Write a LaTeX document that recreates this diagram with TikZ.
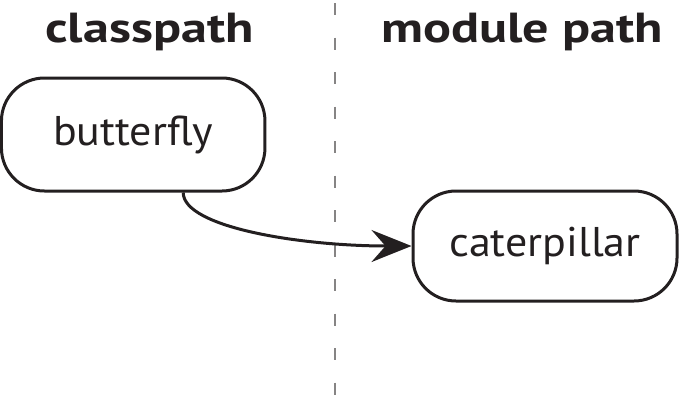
\documentclass[tikz,border=0pt]{standalone}
\usepackage{fontspec}
\setmainfont{PT Sans}[FakeStretch=1.06]
\newfontfamily\titlefont{PT Sans}[FakeStretch=1.24]
\usetikzlibrary{arrows.meta}
\definecolor{ink}{HTML}{231F20}
\begin{document}
\begin{tikzpicture}[x=1pt,y=-1pt,
  box/.style={draw=ink, line width=3pt, rounded corners=43pt, inner sep=0pt, text=ink,
    font=\fontsize{41.5}{44}\selectfont},
  title/.style={text=ink, inner sep=0pt, anchor=base, font=\titlefont\fontsize{42}{46}\selectfont\bfseries},
  divider/.style={draw=ink!55, line width=1.5pt, dash pattern=on 12pt off 22.5pt},
  link/.style={draw=ink, line width=3pt, -{Stealth[length=40pt, width=32pt, inset=14pt]}}]
\useasboundingbox (0,0) rectangle (679,407);
\coordinate (dtop) at (335,3);
\coordinate (dbot) at (335,407);
\path[divider] (dtop) -- (dbot);
\node[title] (t1) at (149.5,42) {classpath};
\node[title] (t2) at (522,42) {module path};
\node[box, minimum width=263.5pt, minimum height=113pt] (bf) at (133.2,134.5) {butterfly};
\node[box, minimum width=264pt, minimum height=110pt] (cp) at (545,246) {caterpillar};
\draw[link] ([xshift=50pt]bf.south) .. controls +(0,35) and +(-110,0) .. (cp.west);
\end{tikzpicture}
\end{document}
